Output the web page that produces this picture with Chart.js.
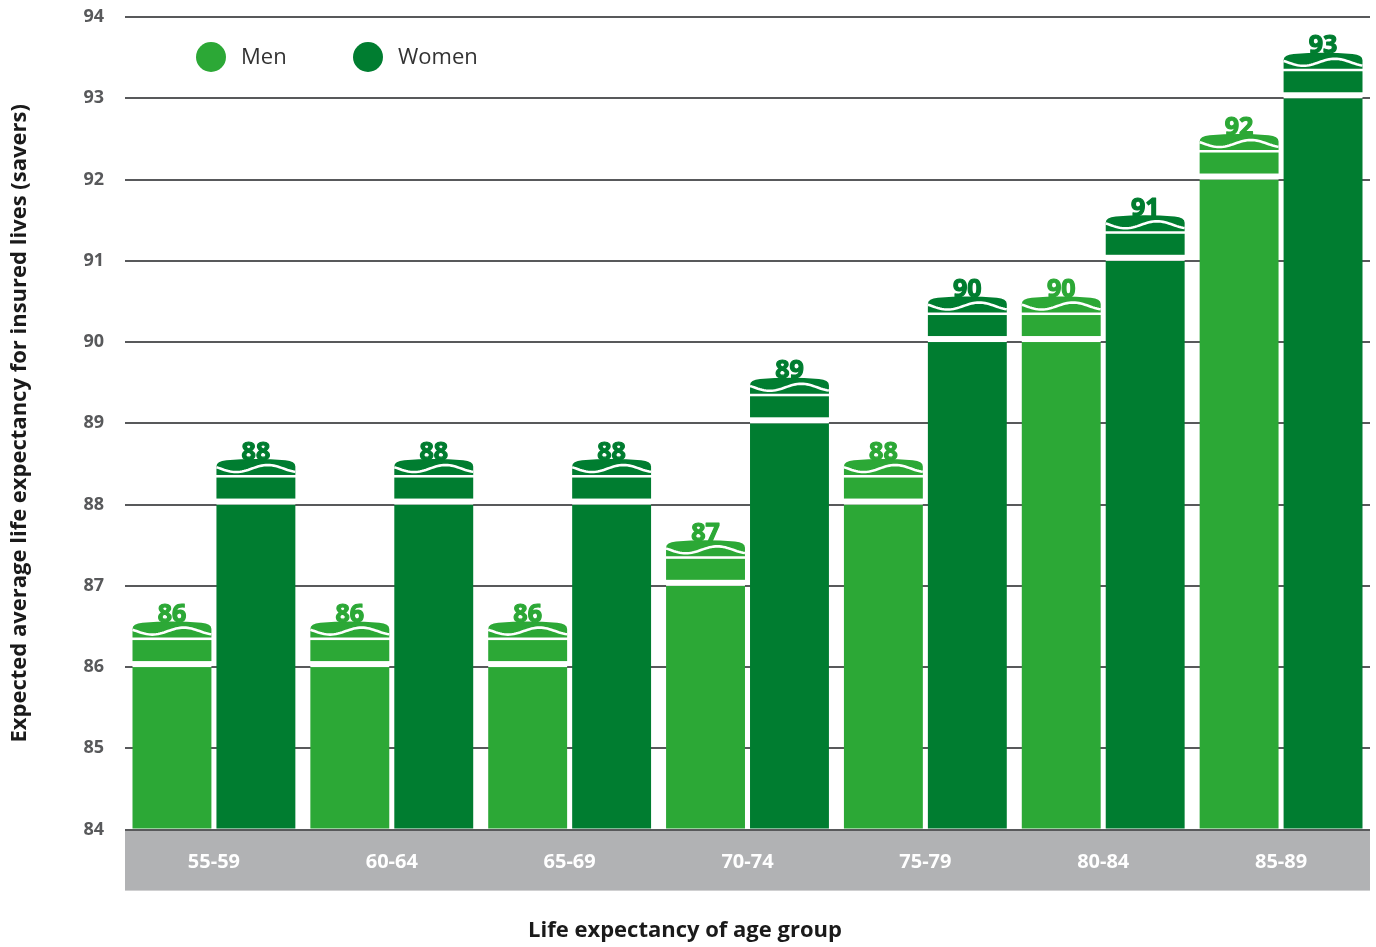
<!DOCTYPE html>
<html lang="en">
<head>
  <meta charset="UTF-8" />
  <title>Life expectancy of insured lives</title>
  <script src="https://cdn.jsdelivr.net/npm/chart.js@4.4.1/dist/chart.umd.min.js"></script>
  <style>
    html, body { margin: 0; padding: 0; background: #fff; }
    #wrap { width: 1376px; height: 947px; }
  </style>
</head>
<body>
  <div id="wrap"><canvas id="lifeChart"></canvas></div>

  <script>
    const ageGroups = ["55-59", "60-64", "65-69", "70-74", "75-79", "80-84", "85-89"];
    const menValues = [86, 86, 86, 87, 88, 90, 92];
    const womenValues = [88, 88, 88, 89, 90, 91, 93];
    const yMin = 84;
    const yMax = 94;

    const MEN_GREEN = "#2ca836";
    const WOMEN_GREEN = "#007d30";
    const GRID_GREY = "#58595b";

    Chart.defaults.font.family = "'Open Sans', sans-serif";

    // grey strip under the x axis holding the age group labels
    const categoryBand = {
      id: "categoryBand",
      beforeDraw(chart) {
        const ctx = chart.ctx;
        const xs = chart.scales.x;
        ctx.save();
        ctx.fillStyle = "#b1b2b4";
        ctx.fillRect(xs.left, xs.top, xs.right - xs.left, 61);
        ctx.restore();
      }
    };

    // layered "cake" top on every bar, with its value written above
    const cakeTops = {
      id: "cakeTops",
      afterDatasetsDraw(chart) {
        const ctx = chart.ctx;
        chart.data.datasets.forEach((ds, i) => {
          const meta = chart.getDatasetMeta(i);
          meta.data.forEach((bar, j) => {
            const { x, y, width } = bar.getProps(["x", "y", "width"], true);
            const x0 = x - width / 2;
            const x1 = x + width / 2;
            ctx.save();
            ctx.fillStyle = "#fff";
            ctx.fillRect(x0, y - 6, width, 6);

            ctx.fillStyle = ds.backgroundColor;
            ctx.fillRect(x0, y - 27, width, 21);

            // domed top layer
            const baseY = y - 29.5;
            ctx.beginPath();
            ctx.moveTo(x0, baseY);
            ctx.lineTo(x0, y - 38);
            ctx.quadraticCurveTo(x0, y - 43.5, x0 + 10, y - 44.3);
            ctx.quadraticCurveTo(x, y - 46.8, x1 - 10, y - 44.3);
            ctx.quadraticCurveTo(x1, y - 43.5, x1, y - 38);
            ctx.lineTo(x1, baseY);
            ctx.closePath();
            ctx.fill();

            // icing wave
            ctx.strokeStyle = "#fff";
            ctx.lineWidth = 2.6;
            ctx.beginPath();
            for (let k = 0; k <= 40; k++) {
              const t = k / 40;
              const wx = x0 + t * width;
              const wy = y - 36 + 3.5 * Math.cos(2 * Math.PI * (t - 0.25) / 0.8);
              if (k === 0) ctx.moveTo(wx, wy); else ctx.lineTo(wx, wy);
            }
            ctx.stroke();

            ctx.fillStyle = ds.backgroundColor;
            ctx.strokeStyle = ds.backgroundColor;
            ctx.lineWidth = 1.2;
            ctx.lineJoin = "round";
            ctx.font = "bold 25px 'Open Sans', sans-serif";
            ctx.textAlign = "center";
            ctx.textBaseline = "alphabetic";
            ctx.fillText(String(ds.data[j]), x, y - 45);
            ctx.strokeText(String(ds.data[j]), x, y - 45);
            ctx.restore();
          });
        });
      }
    };

    // legend sits inside the plot, between the two top grid lines
    const innerLegend = {
      id: "innerLegend",
      afterDraw(chart) {
        const ctx = chart.ctx;
        const area = chart.chartArea;
        ctx.save();
        chart.data.datasets.forEach((ds, i) => {
          const cx = area.left + 86 + i * 157;
          const cy = area.top + 40;
          ctx.fillStyle = ds.backgroundColor;
          ctx.beginPath();
          ctx.arc(cx, cy, 15, 0, Math.PI * 2);
          ctx.fill();
          ctx.fillStyle = "#333";
          ctx.font = "22px 'Open Sans', sans-serif";
          ctx.textAlign = "left";
          ctx.textBaseline = "middle";
          ctx.fillText(ds.label, cx + 30, cy + 1);
        });
        ctx.restore();
      }
    };

    const lifeChart = new Chart(document.getElementById("lifeChart").getContext("2d"), {
      type: "bar",
      data: {
        labels: ageGroups,
        datasets: [
          {
            label: "Men",
            data: menValues,
            backgroundColor: MEN_GREEN,
            borderWidth: 0,
            base: yMin,
            barPercentage: 0.94,
            categoryPercentage: 0.944
          },
          {
            label: "Women",
            data: womenValues,
            backgroundColor: WOMEN_GREEN,
            borderWidth: 0,
            base: yMin,
            barPercentage: 0.94,
            categoryPercentage: 0.944
          }
        ]
      },
      options: {
        responsive: true,
        maintainAspectRatio: false,
        animation: false,
        layout: { padding: { top: 17, right: 6, left: 0, bottom: 0 } },
        plugins: {
          legend: { display: false },
          tooltip: { enabled: false },
          title: {
            display: true,
            position: "bottom",
            text: "Life expectancy of age group",
            color: "#1a1a1a",
            font: { size: 22, weight: "bold" },
            padding: { top: 27, bottom: 3 }
          }
        },
        scales: {
          x: {
            grid: { display: false, drawTicks: false },
            border: { display: false },
            ticks: {
              color: "#fff",
              font: { size: 20, weight: "bold" },
              padding: 21
            },
            afterFit(scale) { scale.height = 61; }
          },
          y: {
            min: yMin,
            max: yMax,
            ticks: {
              stepSize: 1,
              color: GRID_GREY,
              font: { size: 18, weight: "bold" },
              padding: 0
            },
            // invisible tick marks keep the labels clear of the plot
            grid: {
              color: GRID_GREY,
              lineWidth: 2,
              drawTicks: true,
              tickLength: 21,
              tickColor: "rgba(0,0,0,0)"
            },
            border: { display: false },
            title: {
              display: true,
              text: "Expected average life expectancy for insured lives (savers)",
              color: "#1a1a1a",
              font: { size: 22, weight: "bold" },
              padding: { top: 7, bottom: 0 }
            },
            afterFit(scale) { scale.width = 125; }
          }
        }
      },
      plugins: [categoryBand, cakeTops, innerLegend]
    });
  </script>
</body>
</html>
